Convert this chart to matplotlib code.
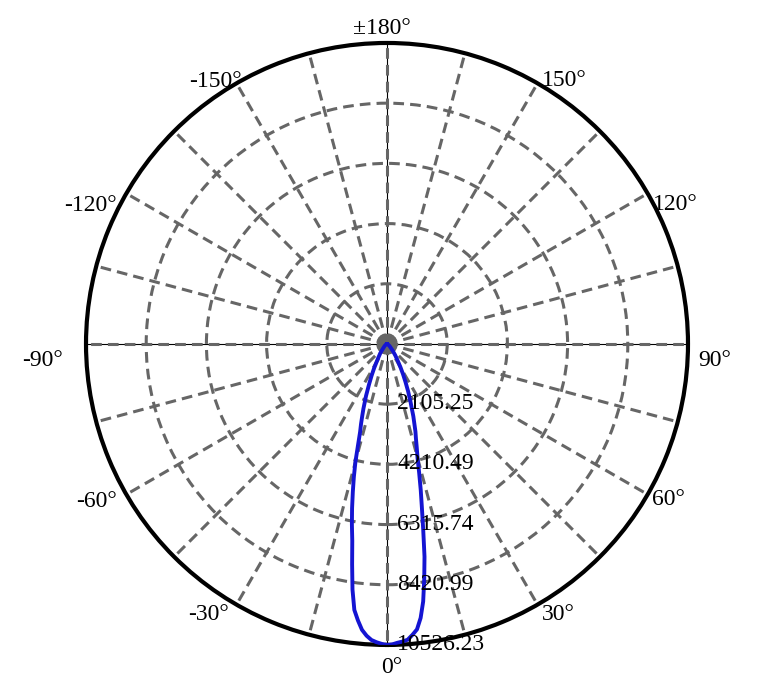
import numpy as np
import matplotlib.pyplot as plt
from matplotlib.transforms import offset_copy

# Luminous intensity distribution (cd)
angles_deg = [-180, -150, -120, -90, -60, -50, -40, -36, -33, -30, -28, -26,
              -24, -22, -20, -19, -18, -17, -16, -15, -14, -13, -12, -11,
              -10, -9, -8, -7, -6, -5, -4, -3, -2, -1, 0,
              1, 2, 3, 4, 5, 6, 7, 8, 9, 10, 11, 12, 13, 14, 15, 16, 17, 18,
              20, 22, 24, 26, 28, 30, 33, 36, 40, 50, 60, 90, 120, 150, 180]
intensity_cd = [0, 0, 0, 17, 52, 105, 245, 402, 525, 734, 962, 1224,
                1539, 1958, 2413, 2658, 2937, 3217, 3672, 4266, 4791, 5315,
                5875, 6434, 6994, 7798, 8673, 9372, 9722, 10036, 10229, 10368,
                10438, 10491, 10526.23,
                10508, 10456, 10421, 10368, 10211, 10036, 9652, 9092, 8323,
                7554, 6644, 5875, 5246, 4651, 4126, 3777, 3462, 3217,
                2693, 2203, 1818, 1469, 1189, 944, 664, 490, 315, 122, 52, 17,
                0, 0, 0]

ring_values = [2105.25, 4210.49, 6315.74, 8420.99, 10526.23]
ring_labels = ['2105.25', '4210.49', '6315.74', '8420.99', '10526.23']

angle_ticks = [0, 30, 60, 90, 120, 150, 180, -150, -120, -90, -60, -30]
angle_labels = ['0°', '30°', '60°', '90°', '120°', '150°', '±180°',
                '-150°', '-120°', '-90°', '-60°', '-30°']

# label placement: (ha, dx px, dy px screen-down to baseline)
label_layout = {
    0: ('center', 5, 28), 30: ('left', 4, 15), 60: ('left', 4, 11),
    90: ('left', 10, 22), 120: ('left', 5, 17), 150: ('left', 4, 3),
    180: ('center', -5, -9), -150: ('right', 5, 4), -120: ('right', -10, 18),
    -90: ('right', -23, 22), -60: ('right', -9, 13), -30: ('right', -8, 15),
}

serif = ['Liberation Serif', 'DejaVu Serif']
fs = 17
grid_color = '#666666'
rmax = ring_values[-1]

fig = plt.figure(figsize=(7.7, 6.96), dpi=100)
ax = fig.add_axes([0.1117, 0.0733, 0.7818, 0.865], projection='polar')
ax.set_theta_zero_location('S')
ax.set_theta_direction(1)
ax.set_ylim(0, rmax)

ax.set_xticks(np.deg2rad(np.arange(0, 360, 15)))
ax.set_xticklabels([])
ax.set_yticks(ring_values[:-1])
ax.set_yticklabels([])
ax.grid(True, color=grid_color, lw=2.2, ls=(0, (3.5, 2)))
ax.spines['polar'].set_linewidth(3)
ax.spines['polar'].set_color('black')

# thin black main axes under the dashed grid
for a in (0, 90, 180, 270):
    t = np.deg2rad(a)
    ax.plot([t, t], [0, rmax], color='black', lw=0.8, zorder=1)

ax.plot(np.deg2rad(angles_deg), intensity_cd, color='#1414D2', lw=2.8,
        zorder=3, solid_joinstyle='round')

# angle labels
for a, lab in zip(angle_ticks, angle_labels):
    ha, dx, dy = label_layout[a]
    ax.annotate(lab, xy=(np.deg2rad(a), rmax), xytext=(dx * 0.72, -dy * 0.72),
                textcoords='offset points', ha=ha, va='baseline',
                fontsize=fs, family=serif, annotation_clip=False)

# radial labels along 0°
tr = offset_copy(ax.transData, fig=fig, x=10, y=-5, units='dots')
for r, lab in zip(ring_values, ring_labels):
    ax.text(0, r, lab, transform=tr, ha='left', va='baseline',
            fontsize=fs, family=serif, zorder=4, clip_on=False)

fig.savefig('out.png', dpi=100)
